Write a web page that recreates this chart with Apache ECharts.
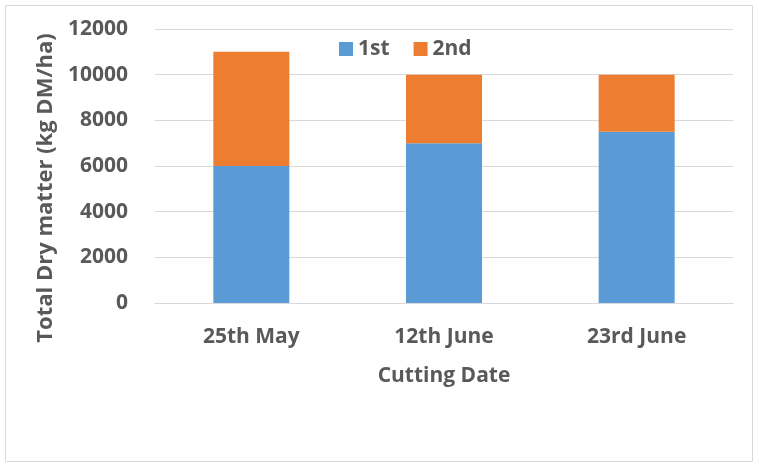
<!DOCTYPE html>
<html>
<head>
<meta charset="utf-8">
<script src="https://cdn.jsdelivr.net/npm/echarts@6/dist/echarts.min.js"></script>
<style>
html,body{margin:0;padding:0;background:#fff;}
#c{width:759px;height:467px;}
</style>
</head>
<body>
<div id="c"></div>
<script>
const categories = ['25th May', '12th June', '23rd June'];
const firstCut = [6000, 7000, 7500];
const secondCut = [5000, 3000, 2500];
const seriesNames = ['1st', '2nd'];
const yTicks = { min: 0, max: 12000, interval: 2000 };
const yTitle = 'Total Dry matter (kg DM/ha)';
const xTitle = 'Cutting Date';

const FONT = '"Open Sans", "Noto Sans", sans-serif';
const TXT = '#595959';
const chart = echarts.init(document.getElementById('c'), null, { renderer: 'canvas' });
chart.setOption({
  animation: false,
  backgroundColor: '#fff',
  graphic: [{
    type: 'rect', shape: { x: 5.5, y: 5.5, width: 747, height: 456 },
    style: { fill: 'none', stroke: '#d9d9d9', lineWidth: 1 }, silent: true
  }, {
    type: 'text', x: 46, y: 188, rotation: Math.PI / 2,
    style: { text: yTitle, fill: TXT, font: 'bold 22px ' + FONT, align: 'center', verticalAlign: 'middle' },
    silent: true
  }],
  grid: { left: 155, right: 26, top: 29, bottom: 164, containLabel: false },
  legend: {
    data: seriesNames,
    left: 334, top: 33,
    itemWidth: 14, itemHeight: 14, itemGap: 24,
    icon: 'rect',
    textStyle: { fontFamily: FONT, fontWeight: 'bold', fontSize: 21, color: TXT, lineHeight: 22 }
  },
  xAxis: {
    type: 'category',
    data: categories,
    axisLine: { lineStyle: { color: '#d9d9d9' } },
    axisTick: { show: false },
    axisLabel: { margin: 24, fontFamily: FONT, fontWeight: 'bold', fontSize: 21, color: TXT },
    name: xTitle,
    nameLocation: 'middle',
    nameGap: 63,
    nameTextStyle: { fontFamily: FONT, fontWeight: 'bold', fontSize: 21, color: TXT }
  },
  yAxis: {
    type: 'value',
    min: yTicks.min, max: yTicks.max, interval: yTicks.interval,
    axisLine: { show: false },
    axisTick: { show: false },
    splitLine: { lineStyle: { color: '#d9d9d9' } },
    axisLabel: { margin: 27, fontFamily: FONT, fontWeight: 'bold', fontSize: 21, color: TXT,
      formatter: v => String(v) }
  },
  series: [
    { name: seriesNames[0], type: 'bar', stack: 'total', data: firstCut, barWidth: 76,
      itemStyle: { color: '#5b9bd5' } },
    { name: seriesNames[1], type: 'bar', stack: 'total', data: secondCut, barWidth: 76,
      itemStyle: { color: '#ed7d31' } }
  ]
});
</script>
</body>
</html>
